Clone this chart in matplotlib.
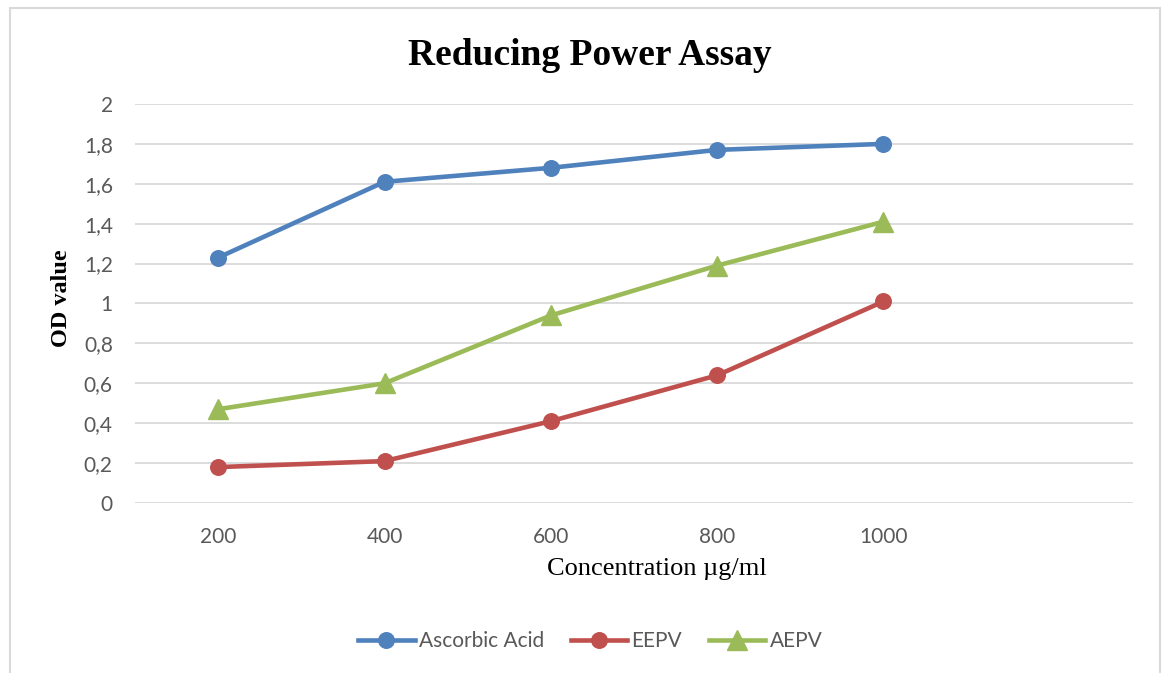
import numpy as np
import matplotlib.pyplot as plt
from matplotlib.patches import Rectangle

# Concentrations (µg/ml) and OD readings for each extract
concentrations = ['200', '400', '600', '800', '1000']
ascorbic_acid = [1.23, 1.61, 1.68, 1.77, 1.80]
eepv = [0.18, 0.21, 0.41, 0.64, 1.01]
aepv = [0.47, 0.60, 0.94, 1.19, 1.41]
y_ticks = [0, 0.2, 0.4, 0.6, 0.8, 1, 1.2, 1.4, 1.6, 1.8, 2]

tick_color = '#595959'
grid_color = '#D9D9D9'

fig = plt.figure(figsize=(11.62, 6.73), dpi=100)
ax = fig.add_axes([0.1162, 0.2526, 0.975 - 0.1162, 0.8455 - 0.2526])

# Chart frame
fig.patches.append(Rectangle((10 / 1162, -0.05), 1150 / 1162, 1.05 - 8 / 673,
                             transform=fig.transFigure, fill=False,
                             edgecolor=grid_color, linewidth=1.5))

x = np.arange(len(concentrations))
ax.plot(x, ascorbic_acid, color='#4F81BD', lw=3.3, marker='o', ms=11.2,
        label='Ascorbic Acid', zorder=3)
ax.plot(x, eepv, color='#C0504D', lw=3.3, marker='o', ms=11.2,
        label='EEPV', zorder=3)
ax.plot(x, aepv, color='#9BBB59', lw=3.3, marker='^', ms=14.4,
        label='AEPV', zorder=3)

ax.set_xlim(-0.5, 5.5)
ax.set_ylim(0, 2)
ax.set_xticks(x)
ax.set_xticklabels(concentrations)
ax.set_yticks(y_ticks)
ax.set_yticklabels([('%g' % v).replace('.', ',') for v in y_ticks])

for s in ax.spines.values():
    s.set_visible(False)
ax.grid(axis='y', color=grid_color, linewidth=1.3)
ax.set_axisbelow(True)
ax.tick_params(length=0, colors=tick_color, labelsize=15)
ax.tick_params(axis='x', pad=17)
ax.tick_params(axis='y', pad=16)
for lbl in ax.get_xticklabels() + ax.get_yticklabels():
    lbl.set_family('Lato')

fig.text(0.5073, 1 - 65 / 673, 'Reducing Power Assay', ha='center', va='baseline',
         family='Liberation Serif', fontweight='bold', fontsize=27)
fig.text(0.5655, 1 - 575 / 673, 'Concentration µg/ml', ha='center', va='baseline',
         family='Liberation Serif', fontsize=19)
fig.text(0.0525, 0.5565, 'OD value', ha='center', va='center', rotation=90,
         family='Liberation Serif', fontweight='bold', fontsize=17.5)

leg = fig.legend(loc='center', bbox_to_anchor=(0.508, 0.047), ncol=3,
                 frameon=False, prop={'family': 'Lato', 'size': 15},
                 handlelength=2.7, handletextpad=0.2, columnspacing=1.3)
for t in leg.get_texts():
    t.set_color(tick_color)

fig.savefig('out.png', dpi=100)
